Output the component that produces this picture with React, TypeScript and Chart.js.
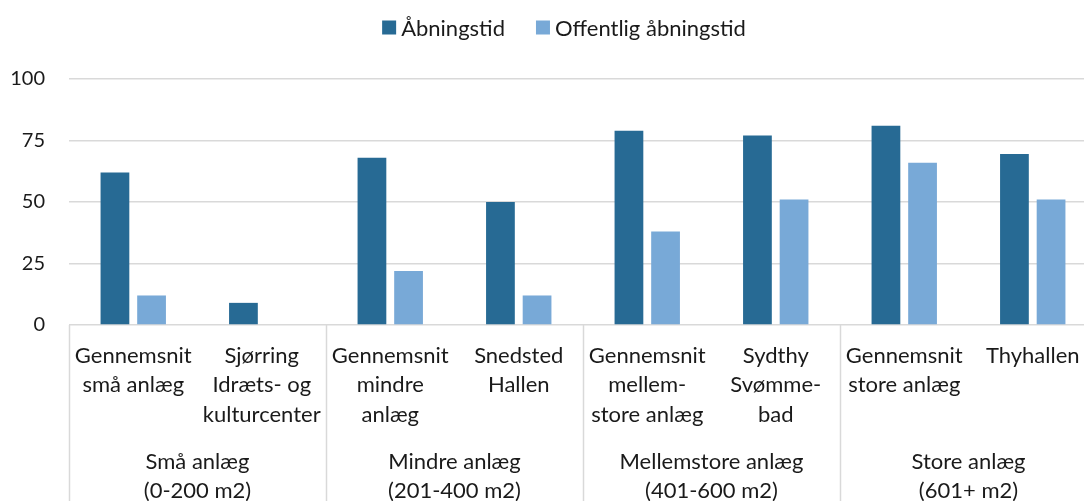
import React, { useEffect, useRef } from "react";
import { Chart, registerables } from "chart.js";

Chart.register(...registerables);

const categories: string[][] = [
  ["Gennemsnit", "små anlæg"],
  ["Sjørring", "Idræts- og", "kulturcenter"],
  ["Gennemsnit", "mindre", "anlæg"],
  ["Snedsted", "Hallen"],
  ["Gennemsnit", "mellem-", "store anlæg"],
  ["Sydthy", "Svømme-", "bad"],
  ["Gennemsnit", "store anlæg"],
  ["Thyhallen"],
];

const groups: string[][] = [
  ["Små anlæg", "(0-200 m2)"],
  ["Mindre anlæg", "(201-400 m2)"],
  ["Mellemstore anlæg", "(401-600 m2)"],
  ["Store anlæg", "(601+ m2)"],
];
const groupSizes: number[] = [2, 2, 2, 2];

const seriesNames: string[] = ["Åbningstid", "Offentlig åbningstid"];
const seriesColors: string[] = ["#276a94", "#78a9d7"];
const aabningstid: (number | null)[] = [62, 9, 68, 50, 79, 77, 81, 69.5];
const offentlig: (number | null)[] = [12, null, 22, 12, 38, 51, 66, 51];

const yTicks: number[] = [0, 25, 50, 75, 100];

const FONT = "Lato, 'Open Sans', sans-serif";
const TEXT = "#1a1a1a";
const GRID = "#d9d9d9";
const LABEL_SIZE = 22;

const legendPlugin = {
  id: "customLegend",
  afterDraw(chart: any) {
    const { ctx } = chart;
    ctx.save();
    ctx.font = `${LABEL_SIZE}px ${FONT}`;
    ctx.textBaseline = "middle";
    ctx.textAlign = "left";
    const box = 14;
    const gapText = 5;
    const gapItem = 31;
    const items = chart.data.datasets.map((d: any) => ({
      text: d.label,
      color: d.backgroundColor,
      w: box + gapText + ctx.measureText(d.label).width,
    }));
    const total = items.reduce((s: number, it: any) => s + it.w, 0) + gapItem * (items.length - 1);
    let x = 564 - total / 2;
    const cy = 27.5;
    items.forEach((it: any) => {
      ctx.fillStyle = it.color;
      ctx.fillRect(x, cy - box / 2, box, box);
      ctx.fillStyle = TEXT;
      ctx.fillText(it.text, x + box + gapText, cy + 1);
      x += it.w + gapItem;
    });
    ctx.restore();
  },
};

const groupPlugin = {
  id: "groupAxis",
  afterDraw(chart: any) {
    const { ctx, chartArea, scales } = chart;
    const x = scales.x;
    const H = chart.height;
    ctx.save();
    ctx.strokeStyle = GRID;
    ctx.lineWidth = 1.5;
    let idx = 0;
    const bounds: number[] = [-0.5];
    groupSizes.forEach((s) => {
      idx += s;
      bounds.push(idx - 0.5);
    });
    bounds.forEach((b) => {
      const px = Math.round(x.getPixelForValue(b)) + 0.5;
      ctx.beginPath();
      ctx.moveTo(px, chartArea.bottom);
      ctx.lineTo(px, H);
      ctx.stroke();
    });
    ctx.fillStyle = TEXT;
    ctx.font = `${LABEL_SIZE}px ${FONT}`;
    ctx.textAlign = "center";
    ctx.textBaseline = "middle";
    groups.forEach((g, i) => {
      const cx = (x.getPixelForValue(bounds[i]) + x.getPixelForValue(bounds[i + 1])) / 2;
      g.forEach((line, j) => {
        ctx.fillText(line, cx, 462 + j * 28.5);
      });
    });
    ctx.restore();
  },
};

export default function App() {
  const ref = useRef<HTMLCanvasElement | null>(null);
  useEffect(() => {
    if (!ref.current) return;
    const chart = new Chart(ref.current, {
      type: "bar",
      data: {
        labels: categories as any,
        datasets: [
          {
            label: seriesNames[0],
            data: aabningstid,
            backgroundColor: seriesColors[0],
            categoryPercentage: 0.57,
            barPercentage: 0.785,
          },
          {
            label: seriesNames[1],
            data: offentlig,
            backgroundColor: seriesColors[1],
            categoryPercentage: 0.57,
            barPercentage: 0.785,
          },
        ],
      },
      options: {
        responsive: false,
        animation: false,
        devicePixelRatio: 1,
        layout: { padding: { left: 0, right: 3, top: 79, bottom: 0 } },
        plugins: {
          legend: { display: false },
          tooltip: { enabled: false },
        },
        scales: {
          x: {
            grid: { display: false, drawTicks: false },
            border: { display: false },
            ticks: {
              color: TEXT,
              font: { family: FONT, size: LABEL_SIZE, lineHeight: 1.34 },
              padding: 16,
              maxRotation: 0,
              minRotation: 0,
              autoSkip: false,
            },
            afterFit(scale: any) {
              scale.height = 176;
            },
          },
          y: {
            min: 0,
            max: 100,
            afterBuildTicks(scale: any) {
              scale.ticks = yTicks.map((v) => ({ value: v }));
            },
            grid: { color: GRID, lineWidth: 1.5, drawTicks: false },
            border: { display: false },
            ticks: {
              color: TEXT,
              font: { family: FONT, size: 20 },
              padding: 24,
            },
            afterFit(scale: any) {
              scale.width = 69;
            },
          },
        },
      },
      plugins: [groupPlugin, legendPlugin],
    });
    return () => chart.destroy();
  }, []);
  return (
    <div
      style={{
        position: "fixed",
        left: 0,
        top: 0,
        width: 1084,
        height: 501,
        overflow: "hidden",
        background: "#fff",
      }}
    >
      <canvas ref={ref} width={1100} height={501} style={{ display: "block" }} />
    </div>
  );
}
